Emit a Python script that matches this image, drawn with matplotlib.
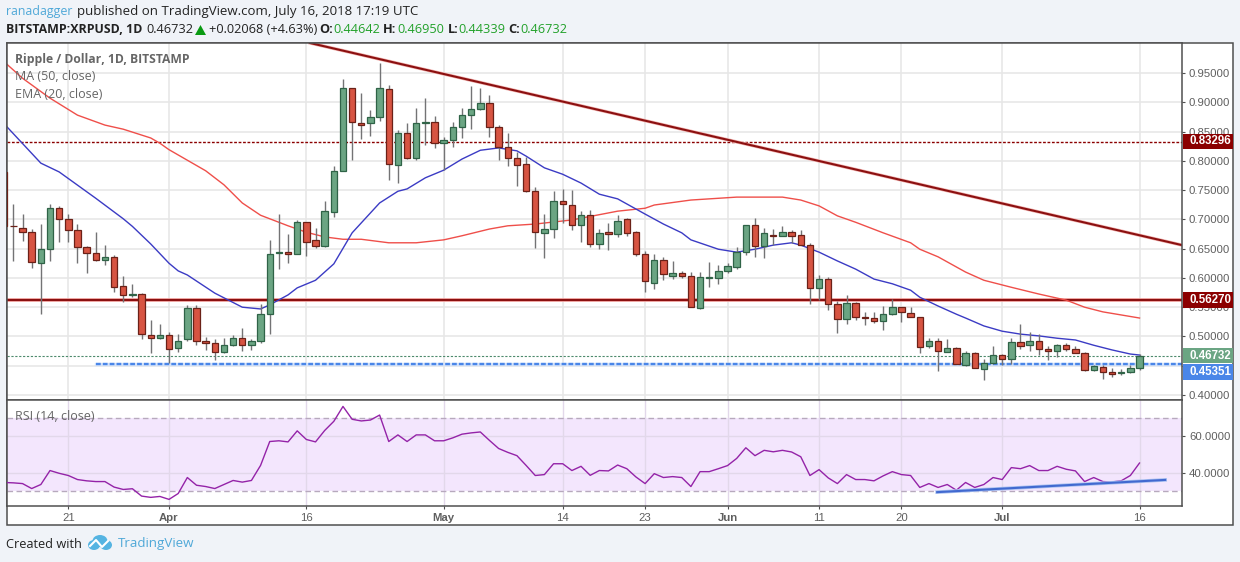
import matplotlib
matplotlib.use('Agg')
import matplotlib.pyplot as plt
import numpy as np
from matplotlib.patches import Rectangle, Polygon, Ellipse

W, H = 1240, 562

# daily candles, 14 Mar 2018 .. 16 Jul 2018
opens = [
    .781, .689, .686, .679, .626, .650, .720, .700, .681, .652, .642, .630, .635, .587, .571, .572, .502, .498,
    .502, .480, .495, .548, .492, .488, .473, .485, .497, .486, .492, .539, .643, .644, .640, .695, .664, .655,
    .713, .783, .9235, .865, .864, .875, .922, .793, .847, .805, .864, .867,
    .831, .835, .857, .879, .888, .898, .857, .823, .804, .794, .749, .677, .684, .731, .725, .691, .708, .658,
    .678, .675, .700, .678, .640, .591, .630, .604, .609, .604, .548, .600, .600,
    .611, .619, .644, .690, .655, .674, .672, .678, .674, .657, .583, .599, .556, .530, .558, .534, .532, .527,
    .539, .550, .540, .534, .484, .493, .474, .481, .451, .471, .445, .454,
    .469, .462, .490, .485, .492, .478, .476, .485, .478, .472, .442, .448, .439, .437, .439, .44642]
highs = [
    .781, .727, .710, .684, .692, .726, .722, .709, .692, .654, .678, .656, .639, .603, .589, .574, .528, .522,
    .508, .505, .553, .553, .499, .495, .497, .502, .514, .495, .556, .665, .709, .675, .699, .696, .686, .731,
    .791, .939, .925, .915, .886, .9665, .929, .852, .864, .891, .908, .876,
    .840, .866, .891, .927, .924, .912, .862, .847, .815, .806, .756, .710, .748, .752, .750, .714, .716, .684,
    .694, .707, .702, .680, .646, .641, .635, .629, .612, .610, .610, .627, .622,
    .625, .652, .690, .703, .686, .683, .688, .682, .682, .660, .605, .601, .561, .571, .559, .541, .542, .552,
    .564, .550, .550, .534, .497, .497, .495, .482, .476, .473, .461, .484,
    .470, .497, .521, .507, .504, .484, .487, .488, .484, .473, .451, .451, .447, .444, .451, .46950]
lows = [
    .688, .629, .663, .617, .539, .629, .662, .662, .626, .609, .629, .622, .576, .559, .568, .496, .472, .495,
    .454, .474, .492, .486, .477, .460, .472, .484, .476, .477, .488, .504, .616, .625, .640, .637, .651, .653,
    .7045, .783, .801, .838, .843, .868, .767, .762, .803, .801, .827, .822,
    .785, .824, .839, .854, .887, .841, .801, .791, .757, .747, .651, .634, .669, .693, .682, .661, .653, .650,
    .647, .670, .672, .637, .576, .581, .596, .599, .600, .550, .547, .585, .590,
    .608, .616, .639, .636, .634, .656, .672, .659, .656, .556, .562, .546, .506, .522, .528, .520, .523, .511,
    .537, .525, .533, .472, .480, .4415, .474, .4535, .450, .4455, .426, .453,
    .451, .453, .4785, .476, .469, .460, .465, .476, .4715, .4415, .4415, .427, .431, .435, .4375, .44339]
closes = [
    .688, .688, .678, .628, .650, .720, .700, .681, .652, .642, .631, .635, .585, .570, .572, .504, .498, .502,
    .478, .493, .548, .492, .488, .473, .485, .497, .486, .492, .539, .640, .644, .640, .695, .662, .655, .714,
    .782, .925, .867, .862, .874, .9235, .795, .847, .805, .864, .867, .831,
    .835, .857, .879, .888, .898, .858, .824, .805, .793, .749, .679, .684, .731, .726, .691, .708, .658, .676,
    .675, .698, .677, .640, .594, .630, .606, .609, .604, .550, .601, .601, .611,
    .620, .644, .690, .655, .676, .672, .678, .672, .657, .583, .599, .556, .530, .558, .534, .532, .527, .539,
    .550, .541, .534, .482, .493, .4745, .481, .4535, .471, .447, .454, .469,
    .462, .490, .484, .492, .478, .476, .486, .478, .472, .442, .449, .439, .4365, .4385, .447, .46732]

# days counted from 1 Apr 2018
days = np.arange(-18, 107)

ema_days = [-18, -14, -12, -8, -5, -4, -2, 0, 1, 2, 5, 8, 10, 11, 13, 14, 16, 18, 20, 22, 23, 25, 26, 28, 30, 32,
            34, 36, 38, 39, 41, 43, 45, 47, 49, 52, 54, 56, 57, 60, 62, 64, 66, 68, 69, 71, 73, 75, 77, 79, 81, 82,
            84, 86, 87, 89, 91, 93, 95, 97, 99, 101, 103, 105, 106]
ema_vals = [.863, .796, .781, .736, .701, .688, .658, .625, .612, .605, .574, .550, .547, .554, .571, .583, .596,
            .624, .677, .711, .728, .748, .752, .771, .784, .803, .818, .822, .817, .808, .788, .777, .762, .743,
            .735, .709, .692, .677, .665, .649, .644, .649, .656, .660, .656, .644, .629, .615, .598, .590, .579,
            .567, .552, .538, .5315, .518, .509, .504, .501, .497, .494, .485, .477, .470, .4683]

ma_days = [-18, -16, -13, -10, -7, -5, -2, -1, 0, 2, 4, 6, 8, 10, 11, 13, 15, 17, 19, 21, 24, 27, 30, 32, 35, 37, 40,
           44, 49, 52, 53, 57, 62, 67, 69, 71, 73, 75, 78, 81, 82, 84, 87, 89, 92, 95, 98, 100, 102, 106]
ma_vals = [.969, .941, .907, .878, .861, .854, .839, .830, .819, .801, .783, .759, .728, .707, .701, .689, .678,
           .670, .666, .666, .660, .660, .665, .672, .6835, .689, .692, .699, .714, .719, .7245, .733, .738, .738,
           .733, .723, .706, .695, .677, .660, .649, .636, .610, .596, .584, .5725, .562, .550, .542, .5315]

rsi_days = np.arange(-18, 107)
rsi_vals = [34.8, 34.6, 34.2, 31.5, 33.7, 41.3, 39.8, 38.6, 36.4, 35.7, 35.3, 35.3, 32.3, 31.0, 31.4, 27.4, 26.7, 27.2,
            25.6, 28.8, 37.5, 33.3, 32.6, 31.5, 33.7, 35.9, 35.0, 35.9, 44.1, 57.1, 57.5, 56.9, 62.9, 58.2, 56.9,
            63.1, 68.1, 76.2, 69.2, 68.3, 68.8, 71.5, 57.1, 60.7, 57.1, 60.7, 60.7, 57.5, 57.5, 59.1,
            61.1, 61.8, 62.3, 57.7, 53.3, 51.2, 49.4, 44.1, 38.6, 39.1, 45.0, 45.0, 41.3, 43.6, 38.7, 41.3, 41.1, 44.3,
            42.3, 37.8, 34.2, 39.6, 37.5, 38.0, 37.5, 32.6, 40.7, 40.7, 42.3, 44.0,
            47.9, 53.7, 49.4, 52.3, 51.5, 52.3, 51.4, 48.8, 38.6, 41.8, 37.3, 34.2, 39.1, 36.4, 36.4, 35.7, 38.4, 40.7,
            39.1, 38.6, 32.1, 34.2, 32.1, 33.7, 30.6, 34.8, 32.1, 33.7, 37.5, 36.4,
            42.9, 42.3, 44.0, 41.3, 41.3, 43.6, 42.0, 41.1, 35.3, 37.5, 35.3, 35.1, 35.7, 38.6, 45.4]

# drawn lines
trend_days = [15.4, 110.64]
trend_vals = [1.0012, .656]
rsi_trend_days = [83.9, 108.8]
rsi_trend_vals = [29.55, 36.2]
resistance = 0.56270
old_high = 0.83296
last_close = 0.46732
support = 0.45351
support_start = -8

price_ticks = [.40, .45, .50, .55, .60, .65, .70, .75, .80, .85, .90, .95]
rsi_ticks = [40, 60]
tick_days = [-11, 0, 15, 30, 43, 52, 61, 71, 80, 91, 106]
tick_labels = ['21', 'Apr', '16', 'May', '14', '23', 'Jun', '11', '20', 'Jul', '16']

UP, UP_EDGE = '#6ba583', '#2f6347'
DOWN, DOWN_EDGE = '#d75442', '#6b2118'
WICK = '#737375'
GRID = '#e6e6e6'
FRAME = '#4f4f4f'
TEXT = '#5f5f5f'
SANS = 'Open Sans'
AXFONT = 'Liberation Sans'


def px_rect(x0, y0, x1, y1):
    return [x0 / W, 1 - y1 / H, (x1 - x0) / W, (y1 - y0) / H]


fig = plt.figure(figsize=(W / 100, H / 100), dpi=100, facecolor='#f0f3f8')

# white outer frame behind the panes
back = fig.add_axes([0, 0, 1, 1], zorder=0)
back.set_xlim(0, W)
back.set_ylim(H, 0)
back.axis('off')
back.add_patch(Rectangle((6.7, 43), 1233 - 6.7, 525 - 43, fc='white', ec=FRAME, lw=1.1))

ax = fig.add_axes(px_rect(6.7, 43, 1182, 400), zorder=1)
rsi = fig.add_axes(px_rect(6.7, 400, 1182, 506), zorder=1)

for a in (ax, rsi):
    a.set_xlim(-17.73, 110.64)
    a.set_xticks(tick_days)
    a.set_axisbelow(True)
    a.yaxis.tick_right()
    for s in a.spines.values():
        s.set_color(FRAME)
        s.set_linewidth(1.1)
    a.grid(True, color=GRID, lw=1.1)
    a.tick_params(color=FRAME, length=2.2, width=0.8, pad=2.8, labelcolor=TEXT, labelsize=8.2)

ax.set_ylim(0.3915, 1.0012)
ax.set_yticks(price_ticks)
# the 0.45 label sits fully behind the last-price badges
ax.set_yticklabels(['' if t == .45 else '%.5f' % t for t in price_ticks], fontfamily=AXFONT)
ax.tick_params(axis='x', length=0, labelbottom=False)

# lines sit under the candles
ax.axhline(last_close, color='#4d8a6c', lw=0.8, ls=(0, (2, 1.5)), zorder=2)
ax.axhline(old_high, color='#8b0000', lw=1.0, ls=(0, (2, 1.2)), zorder=2)
ax.plot([support_start, 110.64], [support, support], color='#d3e2fa', lw=2.4, zorder=2)
ax.plot([support_start, 110.64], [support, support], color='#4a86e8', lw=1.7, ls=(0, (2.0, 0.9)), zorder=2)
ax.axhline(resistance, color='#f2a3a0', lw=2.7, zorder=2)
ax.axhline(resistance, color='#8b1010', lw=1.5, zorder=2)
ax.plot(trend_days, trend_vals, color='#f2b3b0', lw=2.4, zorder=2)
ax.plot(trend_days, trend_vals, color='#8b1010', lw=1.5, zorder=2)
ax.plot(ma_days, ma_vals, color='#ef4f4a', lw=1.0, zorder=2)
ax.plot(ema_days, ema_vals, color='#3b3bc4', lw=1.0, zorder=2)

colors = [UP if c >= o else DOWN for o, c in zip(opens, closes)]
edges = [UP_EDGE if c >= o else DOWN_EDGE for o, c in zip(opens, closes)]
ax.vlines(days, lows, highs, color=WICK, lw=1.0, zorder=3)
ax.bar(days, np.array(closes) - np.array(opens), bottom=opens, width=0.7, color=colors,
       edgecolor=edges, linewidth=0.9, zorder=4)

# RSI pane
rsi.set_ylim(22.0, 79.7)
rsi.set_yticks(rsi_ticks)
rsi.set_yticklabels(['%.4f' % t for t in rsi_ticks], fontfamily=AXFONT)
rsi.grid(True, color='#e2d8ea', lw=1.0)
rsi.set_xticklabels(tick_labels, fontfamily=AXFONT)
for lab in rsi.get_xticklabels():
    if lab.get_text() in ('Apr', 'May', 'Jun', 'Jul'):
        lab.set_fontweight('bold')
rsi.axhspan(30, 70, color='#f3e6fd', lw=0, zorder=0)
rsi.axhline(70, color='#b7a9bd', lw=1.0, ls=(0, (4, 2.5)), zorder=1)
rsi.axhline(30, color='#b7a9bd', lw=1.0, ls=(0, (4, 2.5)), zorder=1)
rsi.plot(rsi_days, rsi_vals, color='#9423a8', lw=1.0, zorder=3)
rsi.plot(rsi_trend_days, rsi_trend_vals, color='#a9c0f0', lw=2.6, zorder=4)
rsi.plot(rsi_trend_days, rsi_trend_vals, color='#4169d0', lw=1.5, zorder=4)

# header, badges and footer in pixel coordinates
top = fig.add_axes([0, 0, 1, 1], zorder=5)
top.set_xlim(0, W)
top.set_ylim(H, 0)
top.axis('off')
top.patch.set_alpha(0)


def txt(x, y, s, color='#222222', size=9.2, weight='normal', family=SANS, ha='left'):
    top.text(x, y, s, color=color, fontsize=size, fontweight=weight, family=family, ha=ha, va='center')


GREEN = '#22a12a'
txt(6, 11.5, 'ranadagger', color='#4fa8d8', size=8.9)
txt(77, 11.5, 'published on TradingView.com, July 16, 2018 17:19 UTC', size=9.5)
txt(6, 29.5, 'BITSTAMP:XRPUSD, 1D', size=8.9, weight='bold')
txt(146, 29.5, '0.46732')
top.add_patch(Polygon([[195, 35], [206, 35], [200.5, 25]], fc='#0a9a12', ec='none'))
txt(209, 29.5, '+0.02068 (+4.63%)')
for x, s in [(319, 'O:'), (383, 'H:'), (448, 'L:'), (508, 'C:')]:
    txt(x, 29.5, s, weight='bold')
for x, s in [(333, '0.44642'), (397, '0.46950'), (458, '0.44339'), (520, '0.46732')]:
    txt(x, 29.5, s, color=GREEN)

txt(15, 60, 'Ripple / Dollar, 1D, BITSTAMP', color='#666666', weight='bold', size=8.7)
txt(15, 77, 'MA (50, close)', color='#666666', size=9.0)
txt(15, 94, 'EMA (20, close)', color='#666666', size=9.0)
txt(15, 417, 'RSI (14, close)', color='#666666', size=9.0)

for yc, s, fc in [(141.5, '0.83296', '#8b0000'), (300, '0.56270', '#8b0000'),
                  (355.6, '0.46732', '#6ba583'), (372, '0.45351', '#4a86e8')]:
    top.add_patch(Rectangle((1182.5, yc - 7.7), 50, 15.4, fc=fc, ec='none'))
    txt(1189, yc, s, color='white', weight='bold', size=8.3, family=AXFONT)

txt(6, 544, 'Created with', size=9.2)
txt(118, 544, 'TradingView', color='#4fa8d8', size=9.6)

# logo
cloud = '#55b4e2'
top.add_patch(Ellipse((94, 545), 12, 10, fc=cloud, ec='none'))
top.add_patch(Ellipse((106, 545), 12, 10, fc=cloud, ec='none'))
top.add_patch(Ellipse((100, 541), 15, 12, fc=cloud, ec='none'))
top.plot([90, 96, 102, 108], [546, 540, 547, 541], color='white', lw=1.5)

fig.savefig('out.png', dpi=100, facecolor=fig.get_facecolor())
